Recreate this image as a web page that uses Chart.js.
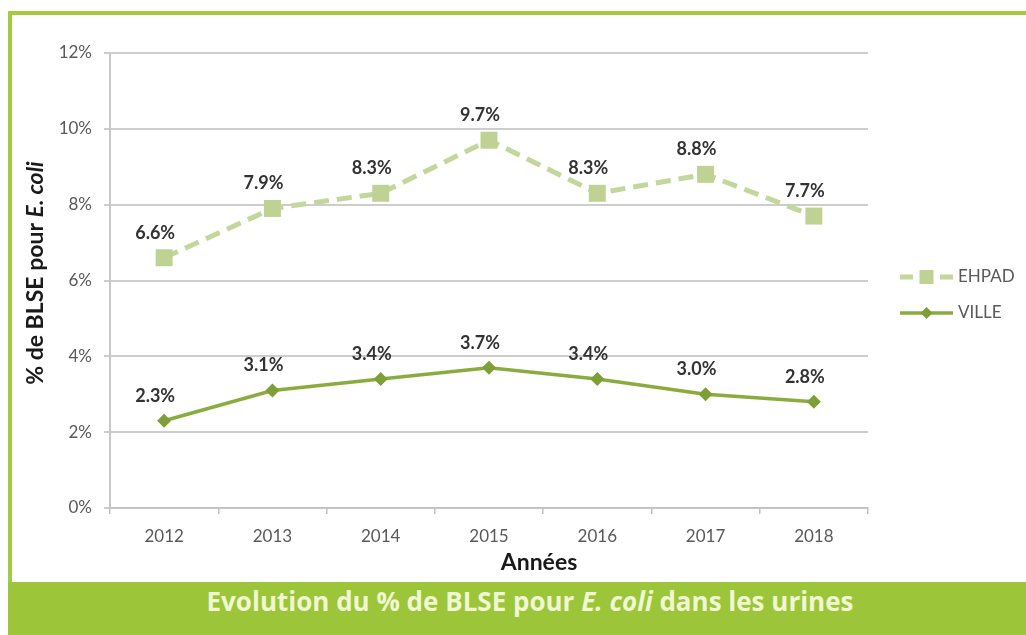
<!DOCTYPE html>
<html>
<head>
<meta charset="utf-8">
<script src="https://cdn.jsdelivr.net/npm/chart.js@4.4.0/dist/chart.umd.min.js"></script>
<style>
body { margin: 0; background: #fff; width: 1026px; height: 635px; overflow: hidden; position: relative; font-family: Lato, sans-serif; }
#frame { position: absolute; left: 8px; top: 11px; width: 1030px; height: 640px; border-left: 4px solid #a5c93f; border-top: 4px solid #a5c93f; }
#wrap { position: absolute; left: 0; top: 0; width: 1026px; height: 582px; }
#banner { position: absolute; left: 8px; top: 582px; width: 992px; padding-left: 26px; height: 53px; background: #9dc53a;
  color: #eff7d3; font-family: 'Open Sans', sans-serif; font-weight: bold; font-size: 26px; text-align: center; line-height: 38px; }
</style>
</head>
<body>
<div id="frame"></div>
<div id="wrap"><canvas id="chart"></canvas></div>
<div id="banner">Evolution du % de BLSE pour <i>E. coli</i> dans les urines</div>
<script>
// values (% of BLSE)
var years = ['2012', '2013', '2014', '2015', '2016', '2017', '2018'];
var ehpad = [6.6, 7.9, 8.3, 9.7, 8.3, 8.8, 7.7];
var ville = [2.3, 3.1, 3.4, 3.7, 3.4, 3.0, 2.8];
var seriesNames = ['EHPAD', 'VILLE'];

var ehpadColor = '#c3d69b';
var villeColor = '#8aac3e';

// value labels above each point
var pointLabels = {
  id: 'pointLabels',
  afterDatasetsDraw: function(chart) {
    var ctx = chart.ctx;
    ctx.save();
    ctx.font = 'bold 18px Lato';
    ctx.fillStyle = '#333';
    ctx.textAlign = 'center';
    ctx.textBaseline = 'middle';
    chart.data.datasets.forEach(function(ds, i) {
      chart.getDatasetMeta(i).data.forEach(function(pt, j) {
        ctx.fillText(ds.data[j].toFixed(1) + '%', pt.x - 9, pt.y - 25);
      });
    });
    ctx.restore();
  }
};

// axis titles (y one has italic "E. coli")
var axisTitles = {
  id: 'axisTitles',
  afterDraw: function(chart) {
    var ctx = chart.ctx;
    var area = chart.chartArea;
    var a = '% de BLSE pour ', b = 'E. coli';
    ctx.save();
    ctx.fillStyle = '#1a1a1a';
    ctx.textBaseline = 'middle';
    ctx.textAlign = 'center';
    ctx.font = 'bold 23px Lato';
    ctx.fillText('Années', (area.left + area.right) / 2 + 50, 563);

    ctx.translate(36, 273);
    ctx.rotate(-Math.PI / 2);
    ctx.textAlign = 'left';
    var wa = ctx.measureText(a).width;
    ctx.font = 'italic bold 23px Lato';
    var wb = ctx.measureText(b).width;
    var x0 = -(wa + wb) / 2;
    ctx.font = 'bold 23px Lato';
    ctx.fillText(a, x0, 0);
    ctx.font = 'italic bold 23px Lato';
    ctx.fillText(b, x0 + wa, 0);
    ctx.restore();
  }
};

// legend: line + marker, like the spreadsheet one
var lineLegend = {
  id: 'lineLegend',
  afterDraw: function(chart) {
    var ctx = chart.ctx;
    var area = chart.chartArea;
    var x1 = area.right + 32, x2 = area.right + 85;
    var ys = [area.top + 224, area.top + 260];
    ctx.save();
    chart.data.datasets.forEach(function(ds, i) {
      var y = ys[i];
      var xm = (x1 + x2) / 2;
      ctx.strokeStyle = ds.borderColor;
      ctx.lineWidth = ds.borderWidth;
      ctx.setLineDash(ds.borderDash ? [13, 7] : []);
      ctx.beginPath();
      ctx.moveTo(x1, y);
      ctx.lineTo(x2, y);
      ctx.stroke();
      ctx.setLineDash([]);
      ctx.fillStyle = ds.pointBackgroundColor;
      if (ds.pointStyle === 'rect') {
        ctx.fillRect(xm - 7, y - 7, 14, 14);
      } else {
        ctx.beginPath();
        ctx.moveTo(xm, y - 6);
        ctx.lineTo(xm + 6, y);
        ctx.lineTo(xm, y + 6);
        ctx.lineTo(xm - 6, y);
        ctx.closePath();
        ctx.fill();
      }
      ctx.fillStyle = '#595959';
      ctx.font = '17px Lato';
      ctx.textBaseline = 'middle';
      ctx.fillText(ds.label, x2 + 5, y);
    });
    ctx.restore();
  }
};

var ctx = document.getElementById('chart');

var myChart = new Chart(ctx, {
  type: 'line',
  data: {
    labels: years,
    datasets: [{
      label: seriesNames[0],
      data: ehpad,
      borderColor: ehpadColor,
      borderWidth: 5,
      borderDash: [15, 8],
      pointStyle: 'rect',
      pointRadius: 12,
      pointBackgroundColor: '#bfd293',
      pointBorderWidth: 0,
      tension: 0
    }, {
      label: seriesNames[1],
      data: ville,
      borderColor: villeColor,
      borderWidth: 3.5,
      pointStyle: 'rectRot',
      pointRadius: 7,
      pointBackgroundColor: '#7e9f35',
      pointBorderWidth: 0,
      tension: 0
    }]
  },
  options: {
    responsive: true,
    maintainAspectRatio: false,
    animation: false,
    layout: { padding: { top: 53, right: 158, bottom: 0, left: 0 } },
    plugins: {
      legend: { display: false },
      tooltip: { enabled: false }
    },
    scales: {
      x: {
        offset: true,
        grid: { display: true, drawOnChartArea: false, offset: true, tickLength: 6, color: '#c0c0c0', lineWidth: 1.5 },
        border: { color: '#c0c0c0', width: 1.5 },
        ticks: { font: { family: 'Lato', size: 17 }, color: '#595959', padding: 12 },
        afterFit: function(s) { s.height = 74; }
      },
      y: {
        min: 0,
        max: 12,
        ticks: { stepSize: 2, font: { family: 'Lato', size: 17 }, color: '#595959', padding: 12,
          callback: function(v) { return v + '%'; } },
        grid: { color: '#cdcdcd', lineWidth: 2, tickLength: 6 },
        border: { color: '#c8c8c8', width: 2 },
        afterFit: function(s) { s.width = 110; }
      }
    }
  },
  plugins: [pointLabels, axisTitles, lineLegend]
});
</script>
</body>
</html>
